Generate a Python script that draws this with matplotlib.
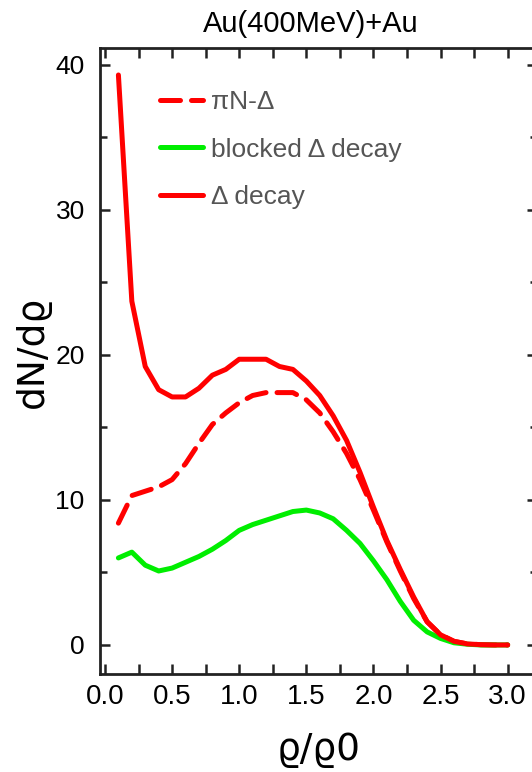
import matplotlib
matplotlib.use("Agg")
import matplotlib.pyplot as plt
from matplotlib.ticker import MultipleLocator

# density bins rho/rho0
rho = [0.1, 0.2, 0.3, 0.4, 0.5, 0.6, 0.7, 0.8, 0.9, 1.0,
       1.1, 1.2, 1.3, 1.4, 1.5, 1.6, 1.7, 1.8, 1.9, 2.0,
       2.1, 2.2, 2.3, 2.4, 2.5, 2.6, 2.7, 2.8, 2.9, 3.0]

# pi N -> Delta formation
piN_delta = [8.4, 10.3, 10.6, 10.9, 11.4, 12.5, 13.9, 15.2, 16.0, 16.7,
             17.2, 17.4, 17.4, 17.4, 16.9, 16.0, 14.7, 13.2, 11.4, 9.3,
             7.1, 5.1, 3.2, 1.6, 0.7, 0.25, 0.07, 0.02, 0.0, 0.0]

# Pauli-blocked Delta decay
blocked_decay = [6.0, 6.4, 5.5, 5.1, 5.3, 5.7, 6.1, 6.6, 7.2, 7.9,
                 8.3, 8.6, 8.9, 9.2, 9.3, 9.1, 8.7, 7.9, 7.0, 5.8,
                 4.5, 3.0, 1.7, 0.9, 0.45, 0.15, 0.05, 0.0, 0.0, 0.0]

# Delta decay
delta_decay = [39.3, 23.7, 19.2, 17.6, 17.1, 17.1, 17.7, 18.6, 19.0, 19.7,
               19.7, 19.7, 19.2, 19.0, 18.2, 17.2, 15.8, 14.1, 11.9, 9.5,
               7.2, 5.2, 3.3, 1.6, 0.7, 0.25, 0.07, 0.02, 0.0, 0.0]

xticks = [0.0, 0.5, 1.0, 1.5, 2.0, 2.5, 3.0]
yticks = [0, 10, 20, 30, 40]

plt.rcParams['font.family'] = ['Liberation Sans', 'DejaVu Sans']

fig = plt.figure(figsize=(5.32, 7.72), dpi=100)
# axes runs past the right edge of the figure
ax = fig.add_axes([0.188, 0.127, 0.821, 0.811])

ax.plot(rho, piN_delta, color='#ff0000', lw=3.6, ls=(0, (4, 2.2)),
        dash_capstyle='round', label='πN-Δ')
ax.plot(rho, blocked_decay, color='#00ee00', lw=3.6,
        solid_capstyle='round', label='blocked Δ decay')
ax.plot(rho, delta_decay, color='#ff0000', lw=3.6,
        solid_capstyle='round', label='Δ decay')

ax.set_xlim(-0.037, 3.217)
ax.set_ylim(-2.0, 41.17)

ax.set_xticks(xticks)
ax.set_xticklabels([f"{v:.1f}" for v in xticks], fontsize=20)
ax.set_yticks(yticks)
ax.set_yticklabels([str(v) for v in yticks], fontsize=19)
ax.xaxis.set_minor_locator(MultipleLocator(0.25))
ax.yaxis.set_minor_locator(MultipleLocator(5))

ax.tick_params(which='both', direction='in', top=True, right=True,
               width=1.8, color='#222222')
ax.tick_params(axis='x', which='both', length=7, pad=7)
ax.tick_params(axis='y', which='major', length=7, pad=11)
ax.tick_params(axis='y', which='minor', length=5)
for s in ax.spines.values():
    s.set_linewidth(2.0)
    s.set_color('#222222')

leg = ax.legend(loc='upper left', bbox_to_anchor=(0.137, 0.932),
                frameon=False, fontsize=19, handlelength=1.63,
                handletextpad=0.3, labelspacing=0.88, borderpad=0,
                borderaxespad=0)
for t in leg.get_texts():
    t.set_color('#555555')

fig.text(0.585, 0.969, 'Au(400MeV)+Au', fontsize=21, ha='center', va='center')
fig.text(0.598, 0.0285, 'ϱ/ϱ0', fontsize=27, ha='center', va='center',
         family=['DejaVu Sans'])
fig.text(0.062, 0.544, 'dN/dϱ', fontsize=27, ha='center', va='center',
         rotation=90, family=['DejaVu Sans'])

fig.savefig('out.png', dpi=100)
